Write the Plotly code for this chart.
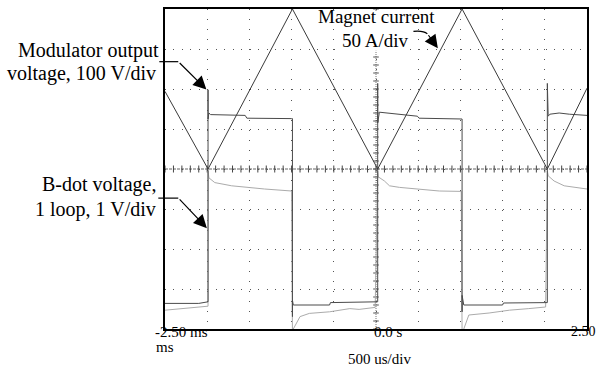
import plotly.graph_objects as go

# ---------------- data (time in ms, amplitude in screen divisions) ----------------
current_t = [-2.5, -1.99, -0.99, 0.02, 1.02, 2.03, 2.5]
current_v = [1.94, 0.0, 4.0, 0.0, 4.0, 0.0, 2.02]

modulator_t = [-2.5, -2.1, -1.99, -1.99, -1.99, -1.98, -1.96, -1.55, -1.53, -1.0,
               -0.99, -0.99, -0.99, -0.98, -0.55, -0.54, -0.01,
               0.02, 0.02, 0.02, 0.04, 0.49, 0.51, 1.01,
               1.02, 1.02, 1.02, 1.04, 1.50, 1.51, 2.01,
               2.03, 2.03, 2.04, 2.06, 2.17, 2.29, 2.5]
modulator_v = [-3.36, -3.36, -3.32, 1.98, 1.25, 1.40, 1.36, 1.34, 1.27, 1.26,
               1.26, -3.69, -3.28, -3.40, -3.40, -3.34, -3.32,
               -3.32, 2.14, 1.15, 1.42, 1.32, 1.27, 1.25,
               1.25, -3.57, -3.16, -3.40, -3.40, -3.35, -3.34,
               -3.34, 2.14, 1.32, 1.37, 1.40, 1.37, 1.34]

bdot_t = [-2.5, -2.26, -2.09, -1.99, -1.99, -1.98, -1.91, -1.71, -1.32, -1.0,
          -0.99, -0.98, -0.90, -0.79, -0.55, -0.31, -0.20, -0.01,
          0.02, 0.03, 0.10, 0.16, 0.28, 0.51, 0.75, 1.01,
          1.02, 1.04, 1.10, 1.34, 1.58, 1.81, 2.01,
          2.03, 2.04, 2.11, 2.23, 2.5]
bdot_v = [-3.53, -3.48, -3.46, -3.43, -0.05, -0.22, -0.34, -0.42, -0.50, -0.55,
          -4.1, -4.0, -3.69, -3.61, -3.57, -3.49, -3.51, -3.46,
          -0.05, -0.20, -0.30, -0.42, -0.46, -0.50, -0.55, -0.56,
          -4.1, -4.0, -3.65, -3.60, -3.53, -3.49, -3.45,
          -0.05, -0.17, -0.30, -0.42, -0.50]

# screen graticule
x_range = [-2.5, 2.5]
y_range = [-4, 4]
x_div = 0.5
y_div = 1.0
x_minor = [round(-2.5 + 0.1 * i, 2) for i in range(51)]
y_minor = [round(-4 + 0.2 * i, 2) for i in range(41)]

FONT = "Liberation Serif"

# ---------------- geometry helpers (pixel -> paper) ----------------
L, R, T, B = 165, 588, 7, 329
W, H = R - L, B - T


def px(x):
    return (x - L) / W


def py(y):
    return (B - y) / H


fig = go.Figure()

# centre graticule lines with minor ticks
fig.add_trace(go.Scatter(x=x_range, y=[0, 0], mode="lines",
                         line=dict(color="#666", width=1, dash="3px,1px"),
                         hoverinfo="skip", showlegend=False))
fig.add_trace(go.Scatter(x=x_minor, y=[0] * len(x_minor), mode="markers",
                         marker=dict(symbol="line-ns", size=5,
                                     line=dict(color="#444", width=1)),
                         hoverinfo="skip", showlegend=False))
fig.add_trace(go.Scatter(x=[0, 0], y=y_range, mode="lines",
                         line=dict(color="#777", width=1, dash="1px,1px"),
                         hoverinfo="skip", showlegend=False))
fig.add_trace(go.Scatter(x=[0] * len(y_minor), y=y_minor, mode="markers",
                         marker=dict(symbol="line-ew", size=4,
                                     line=dict(color="#555", width=1)),
                         hoverinfo="skip", showlegend=False))

# signals
fig.add_trace(go.Scatter(x=bdot_t, y=bdot_v, mode="lines",
                         line=dict(color="#ababab", width=1),
                         name="B-dot voltage", showlegend=False))
fig.add_trace(go.Scatter(x=modulator_t, y=modulator_v, mode="lines",
                         line=dict(color="#4a4a4a", width=1),
                         name="Modulator output voltage", showlegend=False))
fig.add_trace(go.Scatter(x=current_t, y=current_v, mode="lines",
                         line=dict(color="#3a3a3a", width=1),
                         name="Magnet current", showlegend=False))

fig.update_xaxes(range=x_range, tick0=-2.5, dtick=x_div, showticklabels=False,
                 ticks="", showgrid=True, gridcolor="#555", gridwidth=1,
                 griddash="1px,9.06px", zeroline=False,
                 showline=True, mirror=True, linecolor="black", linewidth=1.5)
fig.update_yaxes(range=y_range, tick0=-4, dtick=y_div, showticklabels=False,
                 ticks="", showgrid=True, gridcolor="#555", gridwidth=1,
                 griddash="1px,7.46px", zeroline=False,
                 showline=True, mirror=True, linecolor="black", linewidth=1.5)

annotations = []


def label(text, x, y, xanchor, size):
    annotations.append(dict(text=text, x=px(x), y=py(y), xref="paper", yref="paper",
                            xanchor=xanchor, yanchor="middle", showarrow=False,
                            font=dict(family=FONT, size=size, color="black")))


def arrow(tail, tip):
    annotations.append(dict(text="", x=px(tip[0]), y=py(tip[1]),
                            xref="paper", yref="paper",
                            ax=tail[0] - tip[0], ay=tail[1] - tip[1],
                            showarrow=True, arrowhead=2, arrowsize=2.2,
                            arrowwidth=1.2, arrowcolor="black", standoff=0))


# left labels
label("Modulator output", 161, 49, "right", 20)
label("voltage, 100 V/div", 158, 72, "right", 20)
label("B-dot voltage,", 158, 184, "right", 20)
label("1 loop, 1 V/div", 158, 209, "right", 20)
# magnet current label
label("Magnet current", 377, 14.5, "center", 19)
label("50 A/div", 375, 38.5, "center", 19)
# time labels
label("-2.50 ms", 153, 332, "left", 15)
label("ms", 154, 347, "left", 15)
label("0.0 s", 372.5, 332, "left", 15)
label("2.50", 570, 332, "left", 14)
label("500 us/div", 380, 359, "center", 15)

arrow((178.3, 60), (206.5, 88))
arrow((178.3, 197.3), (207, 227.5))
arrow((428, 32), (438.5, 46.5))

shapes = [
    # white patches behind the magnet-current label (graticule hidden there)
    dict(type="rect", xref="paper", yref="paper", layer="above",
         x0=px(319), x1=px(435), y0=py(9), y1=py(27),
         fillcolor="white", line=dict(width=0)),
    dict(type="rect", xref="paper", yref="paper", layer="above",
         x0=px(341), x1=px(409), y0=py(27), y1=py(49),
         fillcolor="white", line=dict(width=0)),
    dict(type="line", xref="paper", yref="paper", x0=px(159.3), x1=px(178.3),
         y0=py(60), y1=py(60), line=dict(color="black", width=1.2)),
    dict(type="line", xref="paper", yref="paper", x0=px(158.3), x1=px(178.3),
         y0=py(197.3), y1=py(197.3), line=dict(color="black", width=1.2)),
    dict(type="path", xref="paper", yref="paper",
         path="M {:.4f},{:.4f} Q {:.4f},{:.4f} {:.4f},{:.4f}".format(
             px(414), py(29.5), px(424), py(28.5), px(428), py(32)),
         line=dict(color="black", width=1.2)),
]

fig.update_layout(width=596, height=368,
                  margin=dict(l=L, r=596 - R, t=T, b=368 - B),
                  paper_bgcolor="white", plot_bgcolor="white",
                  annotations=annotations, shapes=shapes,
                  font=dict(family=FONT))

fig.write_html("out.html", config={"displayModeBar": False},
               post_script="document.body.style.margin='0';document.body.style.padding='0';")
